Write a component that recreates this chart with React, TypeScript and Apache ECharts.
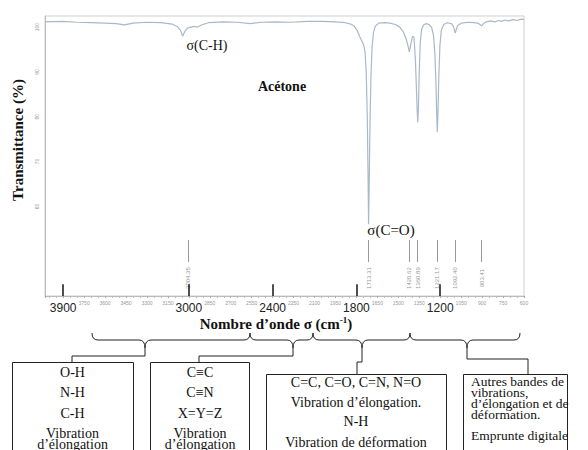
import React, { useEffect, useRef } from 'react';
import * as echarts from 'echarts';

// ---- Spectrum data (wavenumber cm-1, transmittance %) ----
const wavenumbers = [
  4030, 3900, 3800, 3700, 3600, 3520, 3460, 3400, 3300, 3200, 3120, 3080, 3060, 3045, 3030, 3010,
  2985, 2960, 2940, 2910, 2860, 2750, 2650, 2560, 2480, 2380, 2270, 2150, 2040, 1950, 1880, 1840,
  1815, 1795, 1775, 1760, 1748, 1738, 1730, 1722, 1716, 1713, 1709, 1703, 1696, 1688, 1678, 1665,
  1640, 1600, 1560, 1520, 1490, 1465, 1445, 1432, 1421, 1410, 1398, 1388, 1378, 1370, 1365, 1361,
  1356, 1350, 1343, 1333, 1320, 1300, 1280, 1262, 1248, 1238, 1230, 1225, 1221, 1216, 1210, 1202,
  1192, 1175, 1150, 1120, 1105, 1098, 1092, 1085, 1075, 1050, 1000, 960, 930, 915, 903, 890, 870,
  840, 810, 780, 760, 740, 710, 680, 650, 620, 600,
];
const transmittance = [
  101.2, 101.3, 101.1, 101.0, 100.9, 100.8, 100.5, 100.9, 101.1, 101.0, 100.7, 100.1, 99.3, 98.0, 99.0, 99.8,
  100.0, 100.2, 100.0, 100.5, 101.0, 101.2, 101.1, 100.8, 101.1, 101.2, 101.1, 101.3, 101.3, 101.2, 101.0, 100.7,
  100.2, 99.3, 97.8, 96.8, 96.0, 94.5, 90, 80, 65, 56, 64, 78, 89, 95.5, 98.8, 100.2,
  100.9, 101.0, 100.9, 100.6, 100.0, 99.0, 97.5, 96.0, 94.5, 96.3, 98.0, 97.8, 93, 86, 81.5, 78.8,
  82, 90, 96.5, 99.5, 100.5, 100.8, 100.6, 100.0, 98.2, 94, 87, 80.5, 76.6, 81, 89, 96,
  99.3, 100.6, 101.0, 100.8, 100.2, 99.3, 98.7, 99.5, 100.4, 100.9, 101.1, 101.0, 100.9, 100.6, 100.3, 100.8, 101.2,
  101.4, 101.2, 101.5, 101.3, 101.6, 101.4, 101.7, 101.5, 101.8, 101.7,
];

// ---- Peak annotations ----
const peakPositions = [3004.35, 1713.31, 1420.62, 1360.89, 1221.17, 1092.4, 903.41];
const peakLabels = ['3004.35', '1713.31', '1420.62', '1360.89', '1221.17', '1092.40', '903.41'];
const peakLineTop = 52.5;
const peakLineBottom = 47.6;
const peakLabelLevel = 44;

// ---- Axis ticks ----
const majorTicks = [3900, 3000, 2400, 1800, 1200];
const majorTickTop = 42.6;
const yTickValues = [60, 70, 80, 90, 100];
const xMin = 600;
const xMax = 4030;
const xStep = 150;
const yMin = 40;
const yMax = 102.5;

// ---- Group boxes text ----
const box1Lines = ['O-H', 'N-H', 'C-H', 'Vibration', 'd’élongation'];
const box2Lines = ['C≡C', 'C≡N', 'X=Y=Z', 'Vibration', 'd’élongation'];
const box3Lines = ['C=C, C=O, C=N, N=O', 'Vibration d’élongation.', 'N-H', 'Vibration de déformation'];
const box4Lines = ['Autres bandes de', 'vibrations,', 'd’élongation et de', 'déformation.', 'Emprunte digitale'];

const SERIF = "'Liberation Serif', 'Times New Roman', serif";
const SANS = "'Liberation Sans', Arial, sans-serif";

function bracePath(x1: number, xt: number, x2: number) {
  const y = 340, ye = 333, yt = 348, r = 6;
  return (
    `M${x1} ${ye} Q${x1} ${y} ${x1 + r} ${y} L${xt - r} ${y} Q${xt} ${y} ${xt} ${yt} ` +
    `M${xt} ${yt} Q${xt} ${y} ${xt + r} ${y} L${x2 - r} ${y} Q${x2} ${y} ${x2} ${ye} `
  );
}
const braceD =
  bracePath(92, 145, 250) + bracePath(250, 293, 313) + bracePath(313, 362, 410) + bracePath(410, 467, 520);

let registered = false;
function ensureShapes() {
  if (registered) return;
  echarts.graphic.registerShape('braceRow', echarts.graphic.extendPath(braceD, {}));
  registered = true;
}

function txt(text: string, x: number, y: number, o: any = {}) {
  return {
    type: 'text',
    x,
    y,
    rotation: o.rotation || 0,
    silent: true,
    style: {
      text,
      fontSize: o.fontSize || 14,
      fontFamily: o.fontFamily || SERIF,
      fontWeight: o.fontWeight || 'normal',
      fill: o.fill || '#111',
      align: o.align || 'center',
      verticalAlign: 'middle',
      lineHeight: o.lineHeight,
      rich: o.rich,
    },
  };
}

export default function App() {
  const ref = useRef<HTMLDivElement>(null);

  useEffect(() => {
    if (!ref.current) return;
    ensureShapes();
    const chart = echarts.init(ref.current, undefined, { renderer: 'svg' });

    const lineData = wavenumbers.map((w, i) => [w, transmittance[i]]);
    const tickLines = majorTicks.map((w) => [
      { coord: [w, yMin], lineStyle: { color: '#222', width: 1.6, type: 'solid' } },
      { coord: [w, majorTickTop] },
    ]);
    const peakLines = peakPositions.map((w) => [
      { coord: [w, peakLineTop], lineStyle: { color: '#999', width: 1, type: 'solid' } },
      { coord: [w, peakLineBottom] },
    ]);

    const graphics: any[] = [];
    // axis titles
    graphics.push(
      txt('Transmittance (%)', 18, 140, { rotation: Math.PI / 2, fontSize: 15, fontWeight: 'bold' })
    );
    graphics.push(
      txt('{a|Nombre d’onde σ (cm}{s|-1}{a|)}', 276, 324, {
        rich: {
          a: { fontSize: 15, fontWeight: 'bold', fontFamily: SERIF, fill: '#111', lineHeight: 17 },
          s: { fontSize: 9, fontWeight: 'bold', fontFamily: SERIF, fill: '#111', verticalAlign: 'top', lineHeight: 17 },
        },
      })
    );
    // in-plot annotations
    graphics.push(txt('σ(C-H)', 207, 45, { fontSize: 14 }));
    graphics.push(txt('Acétone', 282, 86, { fontSize: 14, fontWeight: 'bold' }));
    graphics.push(txt('σ(C=O)', 391, 230, { fontSize: 15 }));

    // braces
    graphics.push({
      type: 'braceRow',
      x: 0,
      y: 0,
      silent: true,
      style: { fill: 'none', stroke: '#222', lineWidth: 1 },
    });
    // connectors
    const conn = [
      [[145, 348], [145, 356], [72, 356], [72, 362]],
      [[293, 348], [293, 356], [199, 356], [199, 362]],
      [[362, 348], [362, 362], [357, 362], [357, 374]],
      [[467, 348], [467, 359], [528, 359], [528, 374]],
    ];
    conn.forEach((pts) =>
      graphics.push({
        type: 'polyline',
        silent: true,
        shape: { points: pts },
        style: { stroke: '#222', lineWidth: 1, fill: 'none' },
      })
    );
    // boxes
    const boxes = [
      [12, 362, 121, 100],
      [150, 362, 99, 100],
      [266, 374, 180, 100],
      [463, 374, 104, 100],
    ];
    boxes.forEach((b) =>
      graphics.push({
        type: 'rect',
        silent: true,
        shape: { x: b[0] + 0.5, y: b[1] + 0.5, width: b[2], height: b[3] },
        style: { fill: '#fff', stroke: '#222', lineWidth: 1 },
      })
    );
    const ys12 = [372, 392, 413, 433, 444];
    box1Lines.forEach((s, i) => graphics.push(txt(s, 72.5, ys12[i], { fontSize: 14, lineHeight: 11 })));
    box2Lines.forEach((s, i) => graphics.push(txt(s, 200, ys12[i], { fontSize: 14, lineHeight: 11 })));
    const ys3 = [382, 402, 421, 442];
    box3Lines.forEach((s, i) => graphics.push(txt(s, 356, ys3[i], { fontSize: 14 })));
    const ys4 = [381, 392, 403, 414, 435];
    box4Lines.forEach((s, i) =>
      graphics.push(txt(s, 471, ys4[i], { fontSize: 13.5, align: 'left', lineHeight: 11 }))
    );

    chart.setOption({
      animation: false,
      backgroundColor: '#fff',
      grid: {
        left: 45,
        right: 64,
        top: 16,
        bottom: 154,
        show: true,
        borderColor: '#cfcfcf',
        borderWidth: 1,
      },
      xAxis: {
        type: 'value',
        inverse: true,
        min: xMin,
        max: xMax,
        interval: xStep,
        axisLine: { show: true, lineStyle: { color: '#bbb' } },
        axisTick: { show: true, length: 2, lineStyle: { color: '#aaa' } },
        minorTick: { show: true, splitNumber: 3, length: 2, lineStyle: { color: '#bbb' } },
        splitLine: { show: false },
        axisLabel: {
          margin: 4,
          hideOverlap: false,
          formatter: (v: number) => {
            const r = Math.round(v);
            if ((r - xMin) % xStep !== 0) return '';
            if (majorTicks.includes(r)) return `{big|${r}}`;
            return `{small|${r}}`;
          },
          rich: {
            big: { fontSize: 12, color: '#222', fontFamily: SANS, padding: [2, 0, 0, 0] },
            small: { fontSize: 5, color: '#999', fontFamily: SANS },
          },
        },
      },
      yAxis: {
        type: 'value',
        min: yMin,
        max: yMax,
        interval: 10,
        axisLine: { show: true, lineStyle: { color: '#bbb' } },
        axisTick: { show: false },
        splitLine: { show: false },
        axisLabel: {
          rotate: 90,
          fontSize: 5,
          color: '#999',
          margin: 6,
          fontFamily: SANS,
          formatter: (v: number) => (yTickValues.includes(Math.round(v)) ? String(Math.round(v)) : ''),
        },
      },
      series: [
        {
          type: 'line',
          data: lineData,
          showSymbol: false,
          symbol: 'none',
          lineStyle: { color: '#aab9c6', width: 1.2 },
          z: 3,
          markLine: {
            silent: true,
            symbol: ['none', 'none'],
            label: { show: false },
            data: [...tickLines, ...peakLines],
          },
        },
        {
          type: 'scatter',
          data: peakPositions.map((w, i) => ({ value: [w, peakLabelLevel], name: peakLabels[i] })),
          symbolSize: 1,
          itemStyle: { color: 'rgba(0,0,0,0)' },
          silent: true,
          label: {
            show: true,
            position: 'inside',
            rotate: 90,
            fontSize: 6,
            color: '#777',
            fontFamily: SANS,
            formatter: '{b}',
          },
        },
      ],
      graphic: graphics,
    });

    return () => chart.dispose();
  }, []);

  return (
    <div
      ref={ref}
      style={{ position: 'fixed', left: 0, top: 0, width: 588, height: 450, background: '#fff' }}
    />
  );
}
